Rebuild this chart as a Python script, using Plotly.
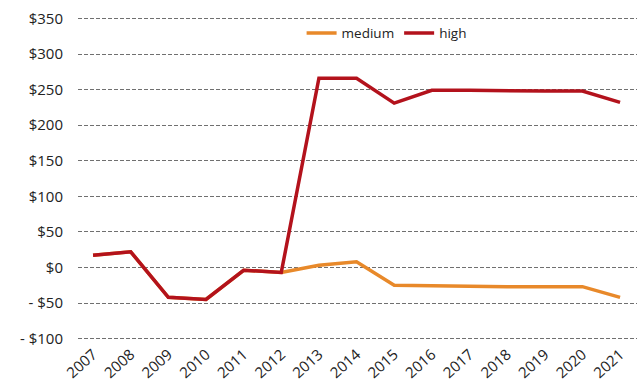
import plotly.graph_objects as go

years = [2007, 2008, 2009, 2010, 2011, 2012, 2013, 2014, 2015, 2016, 2017, 2018, 2019, 2020, 2021]
medium = [17, 22, -42, -45, -4, -7, 3, 8, -25, -26, -26, -27, -27, -27, -42]
high = [17, 22, -42, -45, -4, -7, 266, 266, 231, 249, 249, 248, 248, 248, 232]

y_ticks = [-100, -50, 0, 50, 100, 150, 200, 250, 300, 350]
y_labels = ["- $100", "- $50", "$0", "$50", "$100", "$150", "$200", "$250", "$300", "$350"]

fig = go.Figure()
fig.add_trace(go.Scatter(x=years, y=medium, mode="lines", name="medium",
                         line=dict(color="#e8892a", width=3.5)))
fig.add_trace(go.Scatter(x=years, y=high, mode="lines", name="high",
                         line=dict(color="#b3121c", width=3.5)))

fig.update_layout(
    width=637, height=385,
    margin=dict(l=78, r=0, t=17, b=45),
    plot_bgcolor="white", paper_bgcolor="white",
    font=dict(family="Open Sans, sans-serif", color="#222", size=14),
    legend=dict(orientation="h", x=0.40, y=0.95, xanchor="left", yanchor="middle",
                font=dict(size=13.5), bgcolor="rgba(0,0,0,0)", itemwidth=30),
    xaxis=dict(range=[2006.6, 2021.45], tickmode="array", tickvals=years,
               ticktext=[str(y) for y in years], tickangle=-42, showgrid=False,
               zeroline=False, showline=False, ticks="", tickfont=dict(size=15),
               ticklabelstandoff=2, automargin=False),
    yaxis=dict(range=[-102, 352], tickmode="array", tickvals=y_ticks, ticktext=y_labels,
               showgrid=True, gridcolor="#707070", gridwidth=1, griddash="4px,2px",
               zeroline=False, showline=False, ticks="", ticklabelstandoff=14,
               tickfont=dict(size=15), automargin=False),
)

fig.write_html("out.html")
